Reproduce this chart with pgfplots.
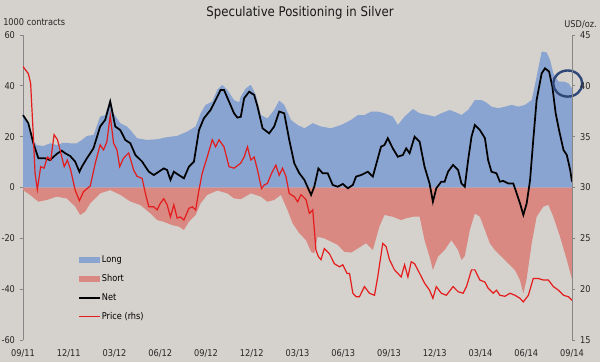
\documentclass[border=0pt]{standalone}
\usepackage{pgfplots}
\pgfplotsset{compat=1.18}
\usepackage{pgfplotstable}
\usepackage{fontspec}
\setmainfont{DejaVu Sans}[FakeStretch=0.88]
\definecolor{bg}{RGB}{213,209,205}
\definecolor{longc}{RGB}{137,164,208}
\definecolor{shortc}{RGB}{217,136,130}
\definecolor{pricec}{RGB}{228,28,28}
\definecolor{axc}{RGB}{135,135,135}
\definecolor{circ}{RGB}{47,72,120}

\pgfplotstableread{
m v
0 29.2
0.35 25.3
0.64 18.7
0.90 16.7
1.34 16.3
1.78 17.4
2.21 16.7
2.65 17.6
3.09 17.4
3.53 17.4
3.86 18.7
4.19 20.3
4.63 20.7
5.06 27.9
5.39 28.5
5.72 35.1
5.94 29.2
6.38 25.3
6.82 24
7.04 22.6
7.48 19.4
8.14 18.7
8.79 19
9.45 19.8
10.11 20.3
10.77 22
11.32 24
11.65 29.2
11.97 32.5
12.41 33.8
12.74 38.4
13.07 40.4
13.40 38.4
13.84 34.4
14.17 33.5
14.28 35.8
14.61 39
14.94 40.4
15.27 36.4
15.60 28.5
16.03 27.2
16.47 30.5
16.80 34.2
17.13 32.5
17.57 26.6
18.01 24.6
18.45 23.3
19.00 25.3
19.54 24
20.20 23.3
20.86 24.6
21.52 26.6
21.95 28.5
22.39 28.5
22.83 29.9
23.26 29.9
23.70 29.2
24.25 27.9
24.58 24.6
25.02 27.9
25.57 30.9
26.01 29.2
26.55 28.5
26.99 27.9
27.43 29.2
27.98 30.5
28.53 29.2
28.75 28.5
29.19 30.5
29.63 34.4
30.07 34.4
30.39 33.4
30.72 31.8
31.16 31.2
31.60 31.8
32.04 32.5
32.48 31.8
32.92 32.5
33.36 34.4
33.68 43.6
34.01 53.5
34.34 53.1
34.56 50.2
34.78 44.9
35.11 41.7
35.44 41.7
35.77 41
36.0 39
}\longdata

\pgfplotstableread{
m v
0 -1
0.46 -2.9
1.01 -5.6
1.55 -4.9
2.21 -3.6
2.87 -4.3
3.42 -7.5
3.75 -10.8
4.08 -9.5
4.41 -6.2
5.06 -2.3
5.72 -1
6.38 -2.9
7.04 -5.5
7.70 -6.9
8.36 -10.2
8.79 -12.8
9.23 -13.5
9.78 -14.8
10.22 -15.4
10.55 -16.7
10.88 -13.5
11.32 -10.8
11.65 -6.2
12.08 -2.9
12.74 -1.2
13.40 -2.3
13.84 -4.3
14.28 -4.6
14.94 -2.3
15.60 -3.6
16.03 -5.6
16.47 -4.9
16.91 -2.9
17.35 -8.9
17.68 -14.1
18.12 -18
18.56 -20.7
18.89 -25.3
19.10 -25.9
19.32 -19.4
19.76 -20
20.20 -21.3
20.64 -22.6
21.08 -25.3
21.52 -25.6
21.95 -24
22.50 -21.9
22.94 -24.6
23.37 -15.4
23.70 -10.8
24.25 -11.5
24.80 -12.8
25.13 -12.1
25.57 -11.5
26.01 -11.5
26.33 -20.7
26.66 -27.2
26.88 -32.5
27.21 -27.2
27.65 -24.6
28.09 -20.7
28.53 -24.6
28.75 -28.5
28.97 -27
29.30 -16.7
29.63 -10.2
29.96 -11.5
30.29 -16.7
30.61 -21.9
30.94 -24.6
31.38 -27.2
31.82 -29.9
32.26 -32.5
32.59 -36.4
32.81 -41.7
33.03 -35.8
33.36 -21.9
33.68 -11.5
34.12 -7.5
34.45 -6.8
34.78 -11.5
35.22 -19.4
35.66 -28.5
36.0 -36
}\shortdata

\pgfplotstableread{
m v
0 28.5
0.35 25.3
0.68 17.4
1.01 11.5
1.44 11.5
1.77 10.8
2.21 13.2
2.54 14.5
2.76 13.5
3.09 12.4
3.42 10.2
3.70 6.2
3.86 8.2
4.19 11.5
4.62 15.4
5.06 24
5.39 26.6
5.72 33.8
6.05 24
6.38 22.6
6.71 18.7
7.04 17.4
7.37 12.8
7.81 10.2
8.25 6.2
8.58 4.9
8.90 6.2
9.23 7.5
9.45 6.9
9.67 3
9.89 6.2
10.22 4.9
10.55 3.6
10.88 8.2
11.21 10.2
11.54 22.6
11.86 27.2
12.30 30.5
12.63 34.4
12.96 38.4
13.18 38.4
13.51 33.8
13.84 29.2
14.06 27.5
14.28 27.8
14.50 35.1
14.83 37.7
15.16 36.4
15.38 31.8
15.71 23.3
16.14 21.3
16.47 24
16.80 29.9
17.13 29.2
17.46 18.7
17.79 9.5
18.12 5.6
18.45 3
18.89 -2.9
19.10 0.3
19.37 7.5
19.65 5.6
19.98 5.6
20.31 1
20.64 0.3
20.97 1.4
21.30 -0.3
21.63 1
21.84 4.3
22.17 4.9
22.61 6.2
22.94 4.3
23.15 8.9
23.48 16.1
23.70 16.7
23.92 19.4
24.25 15.4
24.58 12.1
24.91 12.8
25.13 15.4
25.35 13.5
25.68 20
26.01 18
26.33 8.2
26.66 1.6
26.88 -5.6
27.10 -0.3
27.43 2.3
27.65 2.3
27.87 6.2
28.20 8.9
28.53 6.9
28.75 1.6
28.97 0.3
29.19 10.8
29.41 20
29.63 24.6
29.96 22.6
30.29 19.4
30.50 10.8
30.72 6.2
31.05 5.6
31.27 2.3
31.49 2.6
31.82 1.6
32.15 1.6
32.37 -2.3
32.59 -6.2
32.81 -10.8
33.03 -6.2
33.25 2.9
33.46 18.7
33.68 34.4
34.01 44.9
34.23 46.9
34.50 45.6
34.71 39.7
34.93 29.2
35.15 22.6
35.44 14.8
35.66 12.8
35.88 6.9
36.0 2.3
}\netdata

\pgfplotstableread{
m p
0 41.9
0.35 41.2
0.50 40.25
0.68 35
0.79 31.4
0.94 29.8
1.16 32.05
1.38 31.9
1.60 33.0
1.82 32.7
2.04 35.2
2.26 34.7
2.48 33.4
2.70 32.05
2.91 32.7
3.13 31.7
3.42 29.75
3.70 28.7
3.97 29.6
4.41 30.15
4.74 32.4
5.06 34.2
5.28 33.7
5.50 34.5
5.72 37.1
5.94 34.35
6.16 33.7
6.34 32.05
6.60 32.9
6.93 33.4
7.26 31.7
7.48 31.1
7.81 30.9
8.03 29.4
8.25 28.1
8.58 28.1
8.79 27.8
9.01 28.45
9.23 28.9
9.45 28.3
9.67 27.1
9.89 28.3
10.11 27.0
10.33 27.1
10.55 26.8
10.88 27.95
11.10 28.1
11.32 27.8
11.54 29.75
11.75 31.4
12.08 33.0
12.41 34.7
12.63 34.0
12.85 34.7
13.18 34.0
13.51 32.05
13.84 31.9
14.28 32.4
14.50 33.0
14.72 34.0
14.94 32.7
15.16 33.0
15.38 31.7
15.64 29.9
15.82 30.25
16.03 30.4
16.30 31.4
16.58 32.2
16.80 31.2
17.02 31.9
17.24 31.1
17.46 29.4
17.79 29.1
18.01 28.6
18.23 29.3
18.56 28.8
18.78 27.45
19.00 27.8
19.21 23.85
19.37 23.2
19.54 22.9
19.76 24.0
20.09 23.5
20.42 22.5
20.75 22.2
20.97 22.4
21.25 21.55
21.41 21.55
21.63 19.6
21.85 19.25
22.06 19.25
22.39 20.25
22.72 19.6
23.05 19.4
23.26 21.2
23.59 24.5
23.81 24.2
24.03 22.9
24.36 21.9
24.80 21.2
25.02 22.4
25.24 21.2
25.46 22.7
25.68 22.5
26.01 21.55
26.33 20.6
26.66 19.9
26.88 19.1
27.10 20.25
27.43 19.6
27.76 19.4
28.20 20.25
28.53 19.75
28.86 19.6
29.08 20.25
29.41 21.9
29.63 21.9
29.96 20.9
30.29 20.7
30.50 20.1
30.83 19.6
31.05 19.9
31.27 19.4
31.60 19.3
31.93 19.6
32.26 19.4
32.59 19.1
32.81 18.75
33.14 19.4
33.46 21.05
33.79 21.05
34.12 20.9
34.45 20.9
34.78 20.25
35.11 19.9
35.44 19.4
35.77 19.25
36.0 18.9
}\pricedata

\begin{document}
\begin{tikzpicture}
\fill[bg, use as bounding box] (-17.25pt,-16.5pt) rectangle (432.75pt,255pt);

\pgfplotsset{
  common/.style={
    at={(0pt,0pt)}, anchor=south west,
    scale only axis, width=411.75pt, height=228.75pt,
    xmin=0, xmax=36,
    tick label style={font=\fontsize{7}{8}\selectfont, text=black!85},
    /pgf/number format/assume math mode=true,
    major tick length=2.5pt, tick align=outside,
    y axis line style={draw=axc, line width=0.6pt},
    ytick style={draw=axc, line width=0.6pt},
  }
}

\begin{axis}[common,
  clip=false,
  ymin=-60, ymax=60,
  axis y line*=left, axis x line*=bottom,
  x axis line style={draw=none},
  xtick style={draw=none},
  ytick={-60,-40,...,60},
  xtick={0,3,...,36},
  xticklabels={09/11,12/11,03/12,06/12,09/12,12/12,03/13,06/13,09/13,12/13,03/14,06/14,09/14},
  xticklabel style={yshift=-0.8pt},
  legend style={at={(0.1,0.285)}, anchor=north west, draw=none, fill=none,
    font=\fontsize{7}{8}\selectfont, inner sep=0pt, row sep=3.3pt,
    nodes={inner xsep=1pt}},
  legend cell align=left,
]
\addplot[fill=longc, draw=none,
  legend image code/.code={\fill[longc] (0pt,-2.2pt) rectangle (15.5pt,2.2pt);}]
  table[x=m,y=v] {\longdata} \closedcycle;
\addlegendentry{Long}
\addplot[fill=shortc, draw=none,
  legend image code/.code={\fill[shortc] (0pt,-2.2pt) rectangle (15.5pt,2.2pt);}]
  table[x=m,y=v] {\shortdata} \closedcycle;
\addlegendentry{Short}
\addplot[black, line width=1.3pt,
  legend image code/.code={\draw[black, line width=1.3pt] (0pt,0pt) -- (15.5pt,0pt);}]
  table[x=m,y=v] {\netdata};
\addlegendentry{Net}
\addlegendimage{legend image code/.code={\draw[pricec, line width=1pt] (0pt,0pt) -- (15.5pt,0pt);}}
\addlegendentry{Price (rhs)}
\draw[circ, line width=1.8pt] (axis cs:35.72,40.9) ellipse [x radius=10.9pt, y radius=9.8pt];
\end{axis}

\begin{axis}[common,
  ymin=15, ymax=45,
  axis y line*=right, axis x line=none,
  ytick={15,20,...,45},
]
\addplot[pricec, line width=0.9pt] table[x=m,y=p] {\pricedata};
\end{axis}

\node[font=\fontsize{10}{12}\selectfont, text=black!90] at (207.75pt,245.5pt) {Speculative Positioning in Silver};
\node[font=\fontsize{7}{8}\selectfont, text=black!85, anchor=west, inner sep=0pt] at (-15pt,238.5pt) {1000 contracts};
\node[font=\fontsize{7}{8}\selectfont, text=black!85, anchor=east, inner sep=0pt] at (430.5pt,236.3pt) {USD/oz.};
\end{tikzpicture}
\end{document}
